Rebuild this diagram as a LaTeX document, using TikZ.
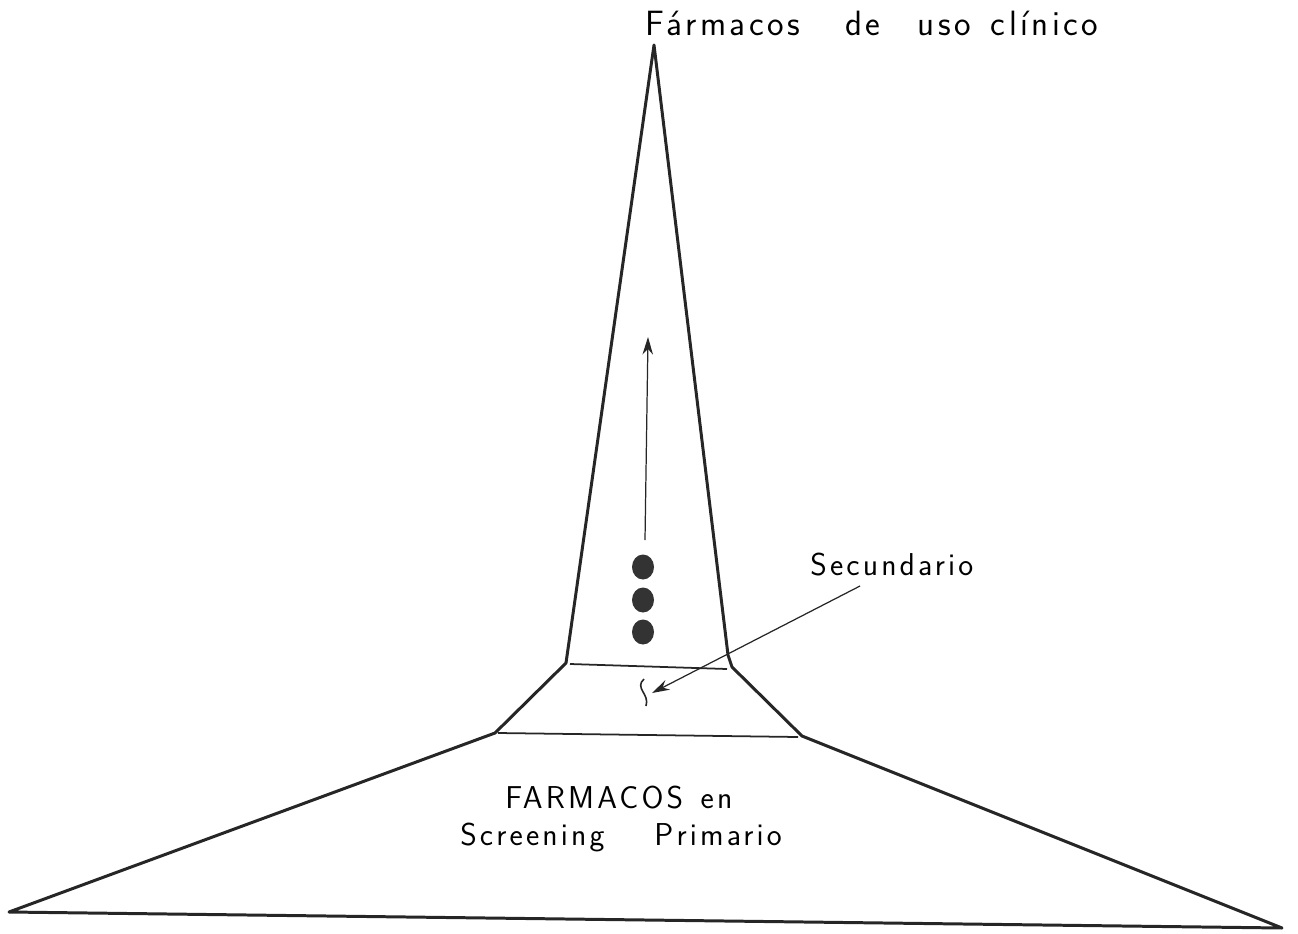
\documentclass[tikz,border=0pt]{standalone}
\usepackage{fontspec}
\usetikzlibrary{arrows.meta,shapes.geometric}

\newfontfamily\letterfont{Latin Modern Sans}[LetterSpace=10]
\newcommand{\lettering}{\letterfont\fontsize{18}{21}\selectfont}

\begin{document}
\begin{tikzpicture}[x=0.02cm, y=-0.02cm,
    outline/.style={line width=1.7pt, line join=round, black!85},
    level/.style={line width=1.0pt, black!85},
    pointer/.style={line width=0.7pt, black!85, -{Stealth[length=10pt, width=6pt]}},
    label/.style={font=\lettering, inner sep=0pt, anchor=base west},
    dot/.style={ellipse, fill=black!80, minimum width=0.44cm, minimum height=0.5cm, inner sep=0pt}
]
    \useasboundingbox (0,0) rectangle (1298,933);

    % outline of the spire and its base
    \coordinate (apex) at (654,45);
    \coordinate (spireL) at (566,663);
    \coordinate (spireR) at (732,667);
    \coordinate (neckL) at (495,733);
    \coordinate (neckR) at (802,736);
    \coordinate (baseL) at (9,912);
    \coordinate (baseR) at (1282,928);

    \draw[outline] (baseL) -- (neckL) -- (spireL) -- (apex)
        -- (728,655) -- (spireR) -- (neckR) -- (baseR) -- cycle;

    % levels
    \draw[level] (570,664) -- (727,669);
    \draw[level] (498,733) -- (798,737);

    % compounds moving up
    \node[dot] (d1) at (643,567) {};
    \node[dot] (d2) at (643,600) {};
    \node[dot] (d3) at (643,632) {};
    \coordinate (upFrom) at (645,540);
    \coordinate (upTo) at (648,337);
    \draw[pointer] (upFrom) -- (upTo);

    % small mark on the secondary level
    \draw[line width=0.9pt, black!85] (644,679) .. controls (634,688) and (650,694) .. (646,706);

    % labels
    \node[label, font=\lettering\fontsize{20}{23}\selectfont] (clinic) at (645,35)
        {Fármacos\hspace{0.9cm}de\hspace{0.75cm}uso\hspace{0.4cm}clínico};
    \node[label] (second) at (810,575) {Secundario};
    \node[label] (prim1) at (505,808) {FARMACOS\hspace{0.35cm}en};
    \node[label] (prim2) at (460,845) {Screening\hspace{1cm}Primario};

    \coordinate (secFrom) at (860,586);
    \coordinate (secTo) at (652,693);
    \draw[pointer] (secFrom) -- (secTo);
\end{tikzpicture}
\end{document}
